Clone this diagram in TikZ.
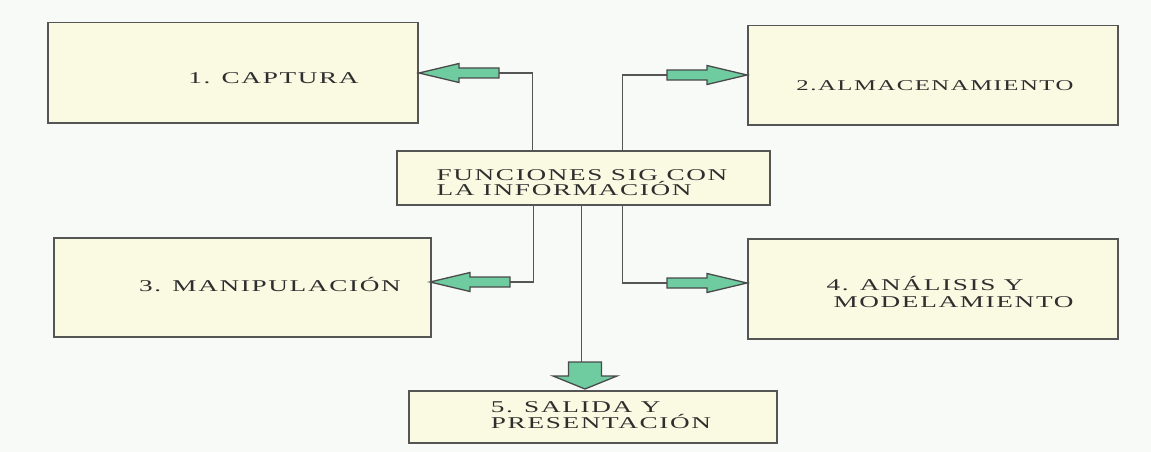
\documentclass[tikz,border=0pt]{standalone}
\usepackage{fontspec}
\newfontfamily\widefont[FakeStretch=1.65,LetterSpace=10]{Liberation Serif}
\definecolor{bg}{HTML}{F8FAF8}
\definecolor{boxfill}{HTML}{FAF9E2}
\definecolor{boxline}{HTML}{555555}
\definecolor{arrowfill}{HTML}{6FCBA0}
\definecolor{arrowline}{HTML}{4A4A4A}
\definecolor{txt}{HTML}{2E2E2E}
\begin{document}
\begin{tikzpicture}[x=1pt,y=-1pt,
  box/.style={draw=boxline, line width=1.5pt, fill=boxfill, anchor=north west, inner sep=0pt},
  lbl/.style={text=txt, font=\widefont\fontsize{16.5}{14}\selectfont, align=left, inner sep=0pt},
  conn/.style={draw=boxline, line width=1.3pt},
  harrow/.pic={\draw[fill=arrowfill, draw=arrowline, line width=1.3pt, line join=miter]
     (0,-5) -- (40,-5) -- (40,-9.5) -- (80,0) -- (40,9.5) -- (40,5) -- (0,5) -- cycle;},
  varrow/.pic={\draw[fill=arrowfill, draw=arrowline, line width=1.3pt, line join=miter]
     (-16.5,0) -- (16.5,0) -- (16.5,14) -- (32,14) -- (0,27) -- (-32,14) -- (-16.5,14) -- cycle;},
]
\fill[bg] (0,0) rectangle (1151,452);
\useasboundingbox (0,0) rectangle (1151,452);

% boxes
\node[box, minimum width=370pt, minimum height=100pt] (b1) at (47,22) {};
\node[box, minimum width=370pt, minimum height=99pt] (b2) at (747,25) {};
\node[box, minimum width=377pt, minimum height=99pt] (b3) at (53,237) {};
\node[box, minimum width=370pt, minimum height=100pt] (b4) at (747,238) {};
\node[box, minimum width=373pt, minimum height=54pt] (c) at (396,150) {};
\node[box, minimum width=368pt, minimum height=52pt] (b5) at (408,390) {};

% labels
\node[lbl, anchor=base] (l1) at (273.5,83.5) {1. CAPTURA};
\node[lbl, anchor=base, font=\widefont\fontsize{15}{14}\selectfont] (l2) at (935,90) {2.ALMACENAMIENTO};
\node[lbl, anchor=base] (l3) at (270,291) {3. MANIPULACIÓN};
\node[lbl] (lc) at (582,182.5) {FUNCIONES SIG CON\\LA INFORMACIÓN};
\node[lbl, font=\widefont\fontsize{16.5}{17}\selectfont] (l4) at (950,292) {4. ANÁLISIS Y\\\hspace*{7pt}MODELAMIENTO};
\node[lbl] (l5) at (601,415) {5. SALIDA Y\\PRESENTACIÓN};

% connector ends
\coordinate (t1) at (499,73);
\coordinate (t2) at (667,75);
\coordinate (t3) at (510,282);
\coordinate (t4) at (667,283);
\coordinate (t5) at (585,362);

\draw[conn] ([xshift=-50.5pt]c.north) |- (t1);
\draw[conn] ([xshift=39.5pt]c.north) |- (t2);
\draw[conn] ([xshift=-49.5pt]c.south) |- (t3);
\draw[conn] ([xshift=39.5pt]c.south) |- (t4);
\draw[conn] ([xshift=-1.5pt]c.south) -- ([xshift=-1.5pt]c.south |- t5);

\pic[rotate=180] at (t1) {harrow};
\pic at (t2) {harrow};
\pic[rotate=180] at (t3) {harrow};
\pic at (t4) {harrow};
\pic at (t5) {varrow};
\end{tikzpicture}
\end{document}
